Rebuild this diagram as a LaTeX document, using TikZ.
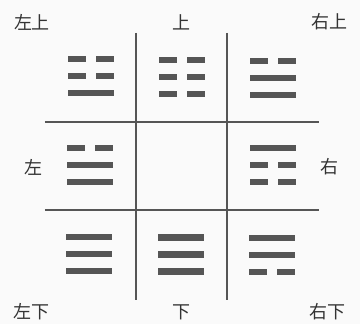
\documentclass[tikz,border=0pt]{standalone}
\usepackage{fontspec}
\setmainfont{Noto Sans CJK SC}
\usetikzlibrary{positioning}

\definecolor{ink}{HTML}{555555}

%% one line of a trigram, centred at (#1,#2)
\newcommand{\yang}[2]{\fill[bar] ({#1-23},{#2-3.2}) rectangle ({#1+23},{#2+3.2});}
\newcommand{\yin}[2]{\fill[bar] ({#1-23},{#2-3.2}) rectangle ({#1-5},{#2+3.2});
  \fill[bar] ({#1+5},{#2-3.2}) rectangle ({#1+23},{#2+3.2});}
%% trigram: top line at (#1,#2), lines #3 #4 #5 from top to bottom
\newcommand{\trigram}[5]{#3{#1}{#2}#4{#1}{#2+17}#5{#1}{#2+34}}

\begin{document}
\begin{tikzpicture}[
  x=1pt, y=-1pt,
  bar/.style={fill=ink},
  grid/.style={draw=ink, line width=1.1pt},
  lbl/.style={font=\fontsize{18}{18}\selectfont, text=black!80, inner sep=0pt},
]
\useasboundingbox[fill=gray!4] (0,0) rectangle (360,324);

%% Grid
\draw[grid] (136,33) -- (136,300);
\draw[grid] (227,33) -- (227,300);
\draw[grid] (45,122) -- (319,122);
\draw[grid] (45,210) -- (319,210);

%% Top row
\trigram{91}{59}{\yin}{\yin}{\yang}
\trigram{182.5}{60}{\yin}{\yin}{\yin}
\trigram{273.5}{61}{\yin}{\yang}{\yang}

%% Middle row
\trigram{90}{148}{\yin}{\yang}{\yang}
\trigram{273.5}{148}{\yang}{\yin}{\yin}

%% Bottom row
\trigram{89}{237}{\yang}{\yang}{\yang}
\trigram{181}{237.5}{\yang}{\yang}{\yang}
\trigram{272}{238}{\yang}{\yang}{\yin}

%% Labels
\node[lbl] (tl) at (32,22)  {左上};
\node[lbl] (t)  at (182,22) {上};
\node[lbl] (tr) at (330,22) {右上};
\node[lbl] (l)  at (33,167) {左};
\node[lbl] (r)  at (330,167) {右};
\node[lbl] (bl) at (31,312) {左下};
\node[lbl] (b)  at (181,312) {下};
\node[lbl] (br) at (328,312) {右下};

\end{tikzpicture}
\end{document}
